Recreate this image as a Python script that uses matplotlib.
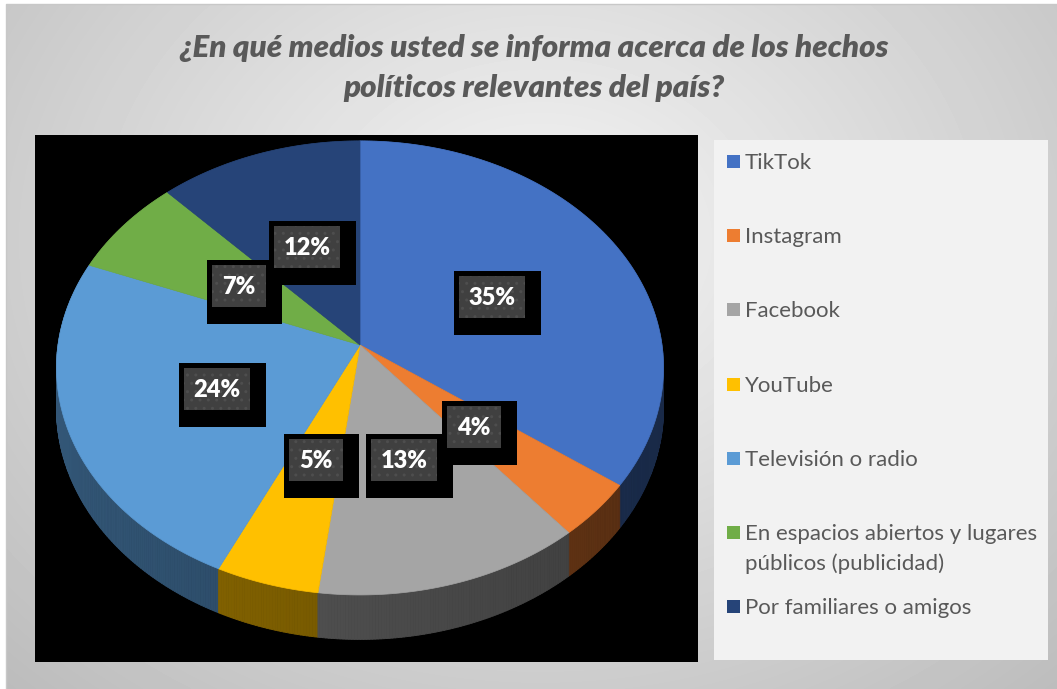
import numpy as np
import matplotlib.pyplot as plt
from matplotlib.patches import Rectangle, Polygon
from matplotlib.collections import PolyCollection
import matplotlib.colors as mcolors

# data
categories = ['TikTok', 'Instagram', 'Facebook', 'YouTube', 'Televisión o radio',
              'En espacios abiertos y lugares\npúblicos (publicidad)', 'Por familiares o amigos']
shares = [35, 4, 13, 5, 24, 7, 12]
colors = ['#4472C4', '#ED7D31', '#A5A5A5', '#FFC000', '#5B9BD5', '#70AD47', '#264478']
title = '¿En qué medios usted se informa acerca de los hechos\npolíticos relevantes del país?'

W, H = 1057, 689
fig = plt.figure(figsize=(W / 100, H / 100), dpi=100)
ax = fig.add_axes([0, 0, 1, 1])
ax.set_xlim(0, W)
ax.set_ylim(H, 0)
ax.axis('off')

# background with soft gradient
yy, xx = np.mgrid[0:H, 0:W]
d = np.sqrt(((xx - 540) / 620) ** 2 + ((yy - 240) / 500) ** 2)
bg = np.clip(0.96 - 0.18 * d, 0, 1)
ax.imshow(bg, cmap='gray', vmin=0, vmax=1, extent=(0, W, H, 0), aspect='auto', zorder=0)
ax.add_patch(Rectangle((0, 0), W, 4, fc='white', ec='none', zorder=1))
ax.add_patch(Rectangle((0, 0), 6, H, fc='white', ec='none', zorder=1))
ax.plot([6, 6, W], [H, 4, 4], color='#c8c8c8', lw=1, zorder=1)

# plot area and legend area
ax.add_patch(Rectangle((35, 135), 663, 527, fc='black', ec='none', zorder=1))
ax.add_patch(Rectangle((714, 140), 334, 520, fc='#f2f2f2', ec='none', zorder=1))

# 3d pie projection
CX, CY, RX, RY, P, DEPTH = 360, 345, 302, 224.7, 0.101, 40


def proj(phi, r=1.0, h=0.0):
    a = np.radians(phi)
    X = r * np.sin(a)
    Z = -r * np.cos(a)
    s = 1.0 / (1.0 - P * Z)
    return CX + RX * X * s, CY + RY * Z * s + DEPTH * h * s


bounds = np.concatenate([[0], np.cumsum(shares)]) / sum(shares) * 360

# side walls
polys, fcs, zs = [], [], []
for i, c in enumerate(colors):
    phis = np.arange(bounds[i], bounds[i + 1] + 0.01, 0.5)
    if phis[-1] < bounds[i + 1]:
        phis = np.append(phis, bounds[i + 1])
    base = np.array(mcolors.to_rgb(c))
    for p0, p1 in zip(phis[:-1], phis[1:]):
        x0, y0 = proj(p0)
        x1, y1 = proj(p1)
        x2, y2 = proj(p1, h=1)
        x3, y3 = proj(p0, h=1)
        pm = np.radians((p0 + p1) / 2)
        f = 0.46 - 0.1 * np.sin(pm)
        polys.append([(x0, y0), (x1, y1), (x2, y2), (x3, y3)])
        fcs.append(base * f)
        zs.append(-np.cos(pm))
order = np.argsort(zs)
ax.add_collection(PolyCollection([polys[k] for k in order], facecolors=[fcs[k] for k in order],
                                 edgecolors=[fcs[k] for k in order], linewidths=0.6, zorder=2))

# top faces
for i, c in enumerate(colors):
    phis = np.linspace(bounds[i], bounds[i + 1], 120)
    xs, ys = proj(phis)
    pts = [(CX, CY)] + list(zip(xs, ys))
    ax.add_patch(Polygon(pts, closed=True, fc=c, ec=c, lw=0.5, zorder=3))

# data labels
for i, v in enumerate(shares):
    mid = (bounds[i] + bounds[i + 1]) / 2
    lx, ly = proj(mid, r=0.5)
    ly += 2
    txt = f'{v}%'
    hw = 33 if len(txt) == 3 else 27
    ax.add_patch(Rectangle((lx - hw - 5, ly - 21 - 5), 2 * hw + 21, 42 + 22,
                           fc='black', ec='none', zorder=4))
    ax.add_patch(Rectangle((lx - hw, ly - 21), 2 * hw, 42, fc='#404040', ec='#4e4e4e',
                           lw=0, hatch='..', zorder=5))
    ax.text(lx, ly + 1, txt, color='white', fontsize=17, fontweight='heavy', family='Lato',
            ha='center', va='center', zorder=6)

# legend
step = (606 - 161) / 6
for i, (lab, c) in enumerate(zip(categories, colors)):
    yc = 161 + i * step
    ax.add_patch(Rectangle((727, yc - 6), 13, 13, fc=c, ec='none', zorder=2))
    ax.text(745, yc - 8, lab, color='#595959', fontsize=16, family='Lato',
            ha='left', va='top', linespacing=1.55, zorder=2)

# title
ax.text(534, 68, title, color='#595959', fontsize=22.5, fontweight='heavy', style='italic',
        family='Lato', ha='center', va='center', linespacing=1.52, zorder=2)

fig.savefig('out.png', dpi=100)
